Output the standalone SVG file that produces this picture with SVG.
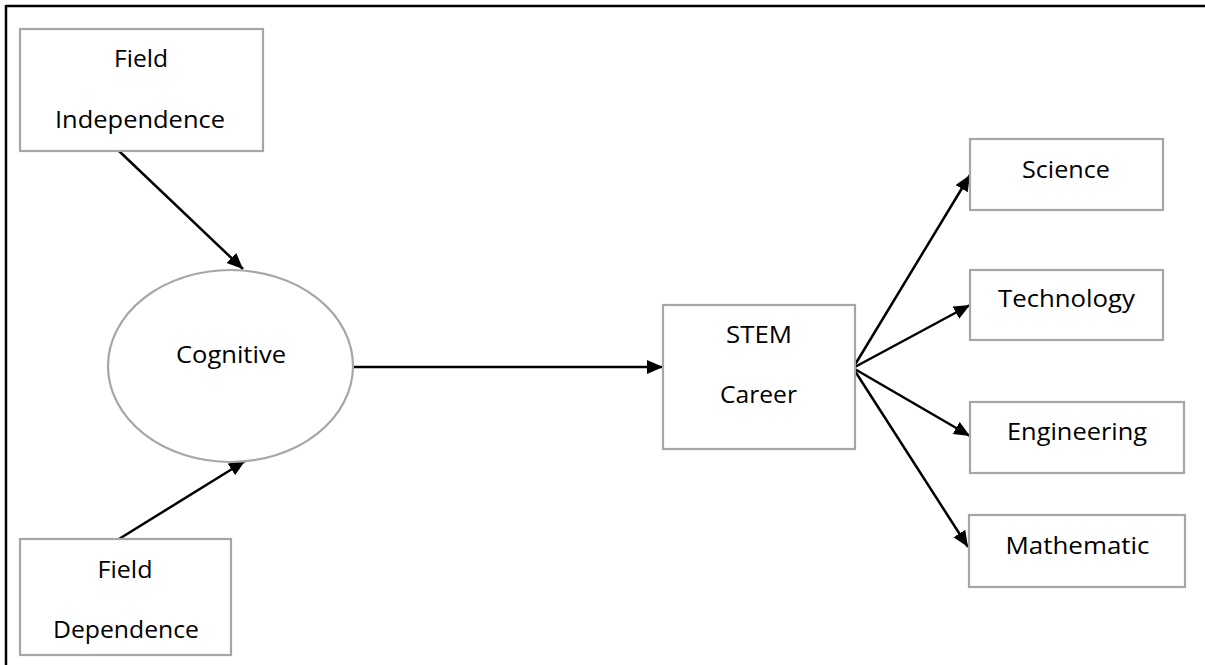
<svg xmlns="http://www.w3.org/2000/svg" width="1205" height="665" viewBox="0 0 1205 665">
  <style>
    .box { fill: #ffffff; stroke: #a6a6a6; stroke-width: 2.2; }
    .lbl { font-family: "Open Sans", "Liberation Sans", sans-serif; font-size: 23px; fill: #000000; text-anchor: middle; }
    .edge { stroke: #000000; stroke-width: 2.5; fill: none; marker-end: url(#arrow); }
    .frame { stroke: #000000; stroke-width: 2.5; fill: none; }
  </style>
  <defs>
    <marker id="arrow" markerUnits="userSpaceOnUse" markerWidth="18" markerHeight="16" refX="16" refY="7" orient="auto">
      <path d="M0,0 L16,7 L0,14 z" fill="#000000"/>
    </marker>
  </defs>
  <rect x="0" y="0" width="1205" height="665" fill="#ffffff"/>
  <g id="frame">
    <line class="frame" x1="6" y1="6" x2="1205" y2="6"/>
    <line class="frame" x1="6" y1="5" x2="6" y2="665"/>
  </g>
  <g id="connectors">
    <line class="edge" x1="119" y1="151" x2="243" y2="269"/>
    <line class="edge" x1="119" y1="539" x2="245" y2="461"/>
    <line class="edge" x1="353" y1="367" x2="663" y2="367"/>
    <line class="edge" x1="853" y1="368" x2="970" y2="175"/>
    <line class="edge" x1="853" y1="368" x2="970" y2="305"/>
    <line class="edge" x1="853" y1="368" x2="970" y2="436"/>
    <line class="edge" x1="853" y1="368" x2="968" y2="547"/>
  </g>
  <g id="field-independence">
    <rect class="box" x="20" y="29" width="243" height="122"/>
    <text class="lbl" x="141" y="67" textLength="54" lengthAdjust="spacingAndGlyphs">Field</text>
    <text class="lbl" x="140" y="128" textLength="170" lengthAdjust="spacingAndGlyphs">Independence</text>
  </g>
  <g id="field-dependence">
    <rect class="box" x="20" y="539" width="211" height="116"/>
    <text class="lbl" x="125" y="578" textLength="55" lengthAdjust="spacingAndGlyphs">Field</text>
    <text class="lbl" x="126" y="638" textLength="146" lengthAdjust="spacingAndGlyphs">Dependence</text>
  </g>
  <g id="cognitive">
    <ellipse class="box" cx="230.5" cy="366" rx="122.5" ry="96"/>
    <text class="lbl" x="231" y="363" textLength="110" lengthAdjust="spacingAndGlyphs">Cognitive</text>
  </g>
  <g id="stem-career">
    <rect class="box" x="663" y="305" width="192" height="144"/>
    <text class="lbl" x="759" y="343" textLength="66" lengthAdjust="spacingAndGlyphs">STEM</text>
    <text class="lbl" x="758.5" y="403" textLength="77" lengthAdjust="spacingAndGlyphs">Career</text>
  </g>
  <g id="science">
    <rect class="box" x="970" y="139" width="193" height="71"/>
    <text class="lbl" x="1066" y="178" textLength="88" lengthAdjust="spacingAndGlyphs">Science</text>
  </g>
  <g id="technology">
    <rect class="box" x="970" y="270" width="193" height="70"/>
    <text class="lbl" x="1066.5" y="307" textLength="137" lengthAdjust="spacingAndGlyphs">Technology</text>
  </g>
  <g id="engineering">
    <rect class="box" x="970" y="402" width="214" height="71"/>
    <text class="lbl" x="1077" y="440" textLength="140" lengthAdjust="spacingAndGlyphs">Engineering</text>
  </g>
  <g id="mathematic">
    <rect class="box" x="969" y="515" width="216" height="72"/>
    <text class="lbl" x="1077.5" y="554" textLength="144" lengthAdjust="spacingAndGlyphs">Mathematic</text>
  </g>
</svg>
